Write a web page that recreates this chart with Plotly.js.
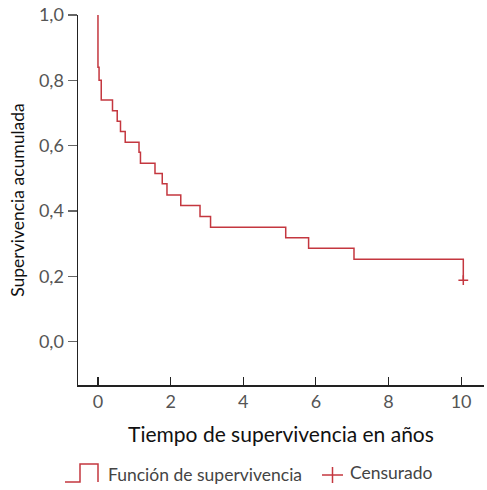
<!DOCTYPE html>
<html>
<head>
<meta charset="utf-8">
<script src="https://cdn.plot.ly/plotly-3.0.1.min.js"></script>
<style>html,body{margin:0;padding:0;background:#fff;}#chart{width:487px;height:490px;}</style>
</head>
<body>
<div id="chart"></div>
<script>
// Kaplan-Meier step data (years, cumulative survival)
const tiempo = [0, 0, 0.03, 0.09, 0.40, 0.53, 0.62, 0.75, 1.13, 1.17, 1.57, 1.77, 1.90, 2.28, 2.81, 3.10, 5.17, 5.80, 7.05, 10.06];
const supervivencia = [1.0, 0.84, 0.80, 0.74, 0.707, 0.675, 0.643, 0.610, 0.580, 0.546, 0.515, 0.483, 0.449, 0.417, 0.383, 0.350, 0.318, 0.286, 0.252, 0.188];
const censuradoT = [10.06];
const censuradoS = [0.188];
const xTicks = [0, 2, 4, 6, 8, 10];
const yTicks = [0.0, 0.2, 0.4, 0.6, 0.8, 1.0];
const xTitle = 'Tiempo de supervivencia en años';
const yTitle = 'Supervivencia acumulada';
const legendLabels = ['Función de supervivencia', 'Censurado'];

const red = '#c4373f';
const font = 'Lato, "Noto Sans", sans-serif';

const traces = [
  {x: tiempo, y: supervivencia, type: 'scatter', mode: 'lines',
   line: {shape: 'hv', color: red, width: 1.5}, name: legendLabels[0], showlegend: false},
  {x: censuradoT, y: censuradoS, type: 'scatter', mode: 'markers',
   marker: {symbol: 'cross-thin-open', size: 7, line: {color: red, width: 1.5}, color: red},
   name: legendLabels[1], showlegend: false}
];

const L = 78, R = 3, T = 15, B = 105, W = 487, H = 490;
const pw = W - L - R, ph = H - T - B;
const px = v => (v - L) / pw;
const py = v => (H - B - v) / ph;

const layout = {
  width: W, height: H,
  margin: {l: L, r: R, t: T, b: B},
  paper_bgcolor: '#fff', plot_bgcolor: '#fff',
  separators: ',.',
  font: {family: font, color: '#333'},
  xaxis: {
    range: [-0.55, 10.63], tickvals: xTicks, ticktext: xTicks.map(String),
    ticks: 'inside', ticklen: 8, tickwidth: 1.2, tickcolor: '#222',
    showline: true, linecolor: '#222', linewidth: 1.5,
    showgrid: false, zeroline: false,
    tickfont: {size: 18, color: '#555', family: font},
    title: {text: xTitle, font: {size: 21, color: '#111', family: font}, standoff: 16}
  },
  yaxis: {
    range: [-0.133, 1.0], tickvals: yTicks, tickformat: '.1f',
    ticks: 'outside', ticklen: 9, tickwidth: 1.2, tickcolor: '#666',
    showline: true, linecolor: '#222', linewidth: 1.5,
    showgrid: false, zeroline: false,
    tickfont: {size: 18, color: '#555', family: font},
    title: {text: yTitle, font: {size: 17.5, color: '#111', family: font}, standoff: 10}
  },
  shapes: [
    {type: 'path', xref: 'paper', yref: 'paper',
     path: `M ${px(65)} ${py(482)} L ${px(80)} ${py(482)} L ${px(80)} ${py(464)} L ${px(98)} ${py(464)} L ${px(98)} ${py(482)}`,
     line: {color: red, width: 1.5}},
    {type: 'line', xref: 'paper', yref: 'paper', x0: px(322), x1: px(343), y0: py(475), y1: py(475),
     line: {color: red, width: 1.5}},
    {type: 'line', xref: 'paper', yref: 'paper', x0: px(332.5), x1: px(332.5), y0: py(467), y1: py(483),
     line: {color: red, width: 1.5}}
  ],
  annotations: [
    {xref: 'paper', yref: 'paper', x: px(106), y: py(474), xanchor: 'left', yanchor: 'middle',
     text: legendLabels[0], showarrow: false, font: {size: 17.5, color: '#444', family: font}},
    {xref: 'paper', yref: 'paper', x: px(348), y: py(472), xanchor: 'left', yanchor: 'middle',
     text: legendLabels[1], showarrow: false, font: {size: 17.5, color: '#444', family: font}}
  ]
};

Plotly.newPlot('chart', traces, layout, {staticPlot: true, displayModeBar: false});
</script>
</body>
</html>
